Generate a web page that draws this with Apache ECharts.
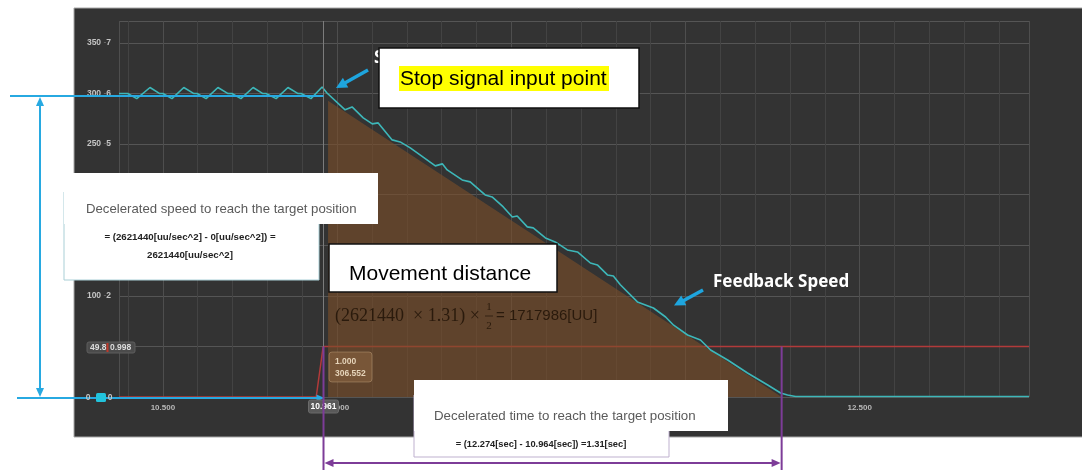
<!DOCTYPE html>
<html>
<head>
<meta charset="utf-8">
<script src="https://cdn.jsdelivr.net/npm/echarts@6/dist/echarts.min.js"></script>
<style>
  html, body { margin: 0; padding: 0; background: #ffffff; }
  #chart { width: 1082px; height: 470px; }
</style>
</head>
<body>
<div id="chart"></div>
<script>
// Visible window of the scope trace
const timeRange = [10.374, 12.986];     // s
const speedRange = [0, 371.75];         // speed axis
const signalRange = [0, 7.435];         // stop-signal axis (7 lines up with 350)

// Feedback speed trace
const speedTime = [
  10.374, 10.399, 10.425, 10.463, 10.491, 10.500, 10.526, 10.560, 10.589, 10.598,
  10.624, 10.658, 10.687, 10.698, 10.724, 10.759, 10.787, 10.796, 10.825, 10.859,
  10.888, 10.897, 10.925, 10.957,
  10.971, 11.023, 11.043, 11.075, 11.101, 11.118, 11.158, 11.181, 11.210, 11.238,
  11.282, 11.302, 11.316, 11.359, 11.382, 11.425, 11.445, 11.477, 11.503, 11.517,
  11.546, 11.563, 11.598, 11.626, 11.661, 11.690, 11.727, 11.747, 11.776, 11.793,
  11.813, 11.862, 11.908, 11.943, 11.966, 12.006, 12.043, 12.072, 12.121, 12.178,
  12.236, 12.273, 12.293, 12.316, 12.986
];
const speedValue = [
  300, 300, 295, 306, 300, 300, 295, 306, 300, 300,
  295, 306, 300, 300, 295, 306, 300, 300, 295, 306,
  300, 300, 295, 306.552,
  300.6, 283.9, 286.8, 276.0, 270.0, 271.0, 254.2, 252.2, 246.3, 239.4,
  228.5, 230.5, 224.5, 214.6, 212.7, 199.8, 197.8, 187.9, 178.0, 179.0,
  168.2, 167.2, 157.3, 153.3, 145.4, 143.4, 132.5, 130.6, 120.7, 119.7,
  111.0, 94.0, 88.0, 79.1, 71.0, 61.3, 56.4, 46.5, 36.6, 23.7,
  11.9, 4.0, 2.0, 0.5, 0.5
];

// Stop signal input
const signalTime = [10.374, 10.940, 10.960, 12.986];
const signalValue = [0, 0, 0.998, 0.998];

// Ideal deceleration ramp (area = movement distance)
const rampTime = [10.974, 12.276];
const rampSpeed = [293, 0];

// Cursor and annotated times
const cursorTime = 10.961;
const decelStart = 10.961;
const decelEnd = 12.276;
const cursorSignal = 0.998;

// Tick label text
const xLabelDigits = 3;

const zip = (a, b) => a.map((v, i) => [v, b[i]]);

const chart = echarts.init(document.getElementById('chart'), null, { renderer: 'canvas' });

chart.setOption({
  animation: false,
  backgroundColor: '#ffffff',
  grid: { left: 119, right: 53, top: 21, bottom: 73, containLabel: false },
  xAxis: {
    type: 'value',
    min: timeRange[0],
    max: timeRange[1],
    splitNumber: 5,
    axisLine: { show: false },
    axisTick: { show: false },
    axisLabel: {
      showMinLabel: false,
      showMaxLabel: false,
      color: '#b8b8b8',
      fontSize: 8,
      fontWeight: 'bold',
      fontFamily: 'Liberation Sans',
      margin: 7,
      formatter: v => v.toFixed(xLabelDigits)
    },
    splitLine: { show: true, lineStyle: { color: '#4e4e4e', width: 1 } },
    minorTick: { show: false, splitNumber: 5 },
    minorSplitLine: { show: true, lineStyle: { color: '#434343', width: 1 } }
  },
  yAxis: [
    {
      type: 'value',
      min: speedRange[0],
      max: speedRange[1],
      splitNumber: 7,
      axisLine: { show: false },
      axisTick: { show: false },
      axisLabel: {
        showMaxLabel: false,
        margin: 8,
        formatter: v => {
          if (v === 0 || v === 50 || v > 360) return '';
          return '{a|' + v + '}{d| -}{b|' + (v / 50) + '}';
        },
        rich: {
          a: { color: '#c4c4c4', fontSize: 8.5, fontFamily: 'Liberation Sans', fontWeight: 'bold' },
          d: { color: '#777777', fontSize: 8.5, fontFamily: 'Liberation Sans' },
          b: { color: '#c4c4c4', fontSize: 8.5, fontFamily: 'Liberation Sans', fontWeight: 'bold' }
        }
      },
      splitLine: { show: true, lineStyle: { color: '#555555', width: 1 } }
    },
    {
      type: 'value',
      min: signalRange[0],
      max: signalRange[1],
      show: false,
      splitLine: { show: false }
    }
  ],
  series: [
    {
      name: 'Stop signal',
      type: 'line',
      yAxisIndex: 1,
      data: zip(signalTime, signalValue),
      symbol: 'none',
      lineStyle: { color: '#b23a3a', width: 1.5 },
      z: 2
    },
    {
      name: 'Deceleration',
      type: 'line',
      data: zip(rampTime, rampSpeed),
      symbol: 'none',
      lineStyle: { width: 0 },
      areaStyle: { color: 'rgba(124,78,40,0.88)', origin: 'start' },
      z: 3
    },
    {
      name: 'Feedback Speed',
      type: 'line',
      data: zip(speedTime, speedValue),
      symbol: 'none',
      lineStyle: { color: '#3db7b9', width: 1.6 },
      z: 4,
      markLine: {
        silent: true,
        symbol: ['none', 'none'],
        label: { show: false },
        lineStyle: { color: '#7c7c7c', width: 1, type: 'solid' },
        data: [{ xAxis: cursorTime }]
      }
    }
  ]
});

// ---- annotation overlay ----
const BLUE = '#27a9e1';
const PURPLE = '#7d3c98';
let zc = 10;
function seg(x1, y1, x2, y2, color, w) {
  return { type: 'line', z: zc++, shape: { x1, y1, x2, y2 }, style: { stroke: color, lineWidth: w } };
}
function head(x, y, ang, color, len, wid) {
  const bx = x - len * Math.cos(ang), by = y - len * Math.sin(ang);
  const px = -Math.sin(ang) * wid / 2, py = Math.cos(ang) * wid / 2;
  return { type: 'polygon', z: zc++, shape: { points: [[x, y], [bx + px, by + py], [bx - px, by - py]] }, style: { fill: color } };
}
function box(x, y, w, h, fill, stroke, lw, r) {
  return { type: 'rect', z: zc++, shape: { x, y, width: w, height: h, r: r || 0 },
           style: { fill, stroke: stroke || null, lineWidth: lw || 0 } };
}
function txt(text, x, y, font, fill, align) {
  return { type: 'text', z: zc++, x, y,
           style: { text, font, fill, textAlign: align || 'left', textVerticalAlign: 'middle' } };
}

const xCur = chart.convertToPixel({ xAxisIndex: 0 }, decelStart);
const xEnd = chart.convertToPixel({ xAxisIndex: 0 }, decelEnd);
const ySig = chart.convertToPixel({ yAxisIndex: 1 }, cursorSignal);

const els = [];
// scope panel
els.push({ type: 'rect', z: -1, shape: { x: 74, y: 8, width: 1010, height: 429 },
           style: { fill: '#333333', stroke: '#a8a8a8', lineWidth: 1 } });

// blue dimension arrows (speed span)
els.push(seg(10, 96, xCur, 96, BLUE, 2));
els.push(seg(40, 104, 40, 390, BLUE, 2));
els.push(head(40, 97, -Math.PI / 2, BLUE, 9, 8));
els.push(head(40, 397, Math.PI / 2, BLUE, 9, 8));
els.push(seg(17, 398, xCur - 6, 398, BLUE, 2));
els.push(head(xCur + 1, 398, 0, BLUE, 8, 7));

// zero / cursor readouts on the value axis
els.push(txt('0', 88, 397.5, 'bold 8.5px "Liberation Sans"', '#c4c4c4', 'center'));
els.push(box(96, 393, 10, 9, '#22c3dc', null, 0, 1.5));
els.push(txt('0', 110, 397.5, 'bold 8.5px "Liberation Sans"', '#c4c4c4', 'center'));
els.push(box(87, 342, 48, 11, '#4b4b4b', '#5e5e5e', 1, 2));
els.push(txt('49.8', 90, 347.5, 'bold 8.5px "Liberation Sans"', '#dddddd'));
els.push(box(106.5, 343, 2, 9, '#c0392b'));
els.push(txt('0.998', 110, 347.5, 'bold 8.5px "Liberation Sans"', '#dddddd'));

// cursor time tag and value readout
els.push(box(xCur - 15, 400, 30, 13, '#595959', '#6a6a6a', 1, 2));
els.push(txt('10.961', xCur, 406.5, 'bold 8.5px "Liberation Sans"', '#ffffff', 'center'));
els.push(box(329, 352, 43, 30, 'rgba(128,92,60,0.75)', 'rgba(215,185,145,0.35)', 1, 3));
els.push(txt('1.000', 335, 362, 'bold 8.5px "Liberation Sans"', '#e6d4ba'));
els.push(txt('306.552', 335, 374, 'bold 8.5px "Liberation Sans"', '#e6d4ba'));

// stop signal callout
els.push(txt('S', 374, 58, 'bold 17px "Noto Sans"', '#ffffff'));
els.push(seg(368, 70, 343, 84, '#1ea5de', 3.5));
els.push(head(336, 88, Math.atan2(18, -32), '#1ea5de', 11, 11));
els.push(box(379, 48, 260, 60, '#ffffff', '#111111', 1.5));
els.push(box(399, 66, 210, 25, '#ffff00'));
els.push(txt('Stop signal input point', 400, 79, '21px "Liberation Sans"', '#000000'));

// feedback speed callout
els.push(txt('Feedback Speed', 713, 282, 'bold 17px "Noto Sans"', '#ffffff'));
els.push(seg(703, 290, 681, 302, '#1ea5de', 3.5));
els.push(head(674, 305.5, Math.atan2(15, -29), '#1ea5de', 11, 11));

// deceleration speed note
els.push(box(64, 192, 255, 88, '#ffffff', '#a9cfd6', 1));
els.push(box(64, 173, 314, 51, '#ffffff'));
els.push(txt('Decelerated speed to reach the target position', 86, 209, '13.2px "Liberation Sans"', '#5a5a5a'));
els.push(txt('= (2621440[uu/sec^2] - 0[uu/sec^2]) =', 190, 237, 'bold 9.7px "Liberation Sans"', '#222222', 'center'));
els.push(txt('2621440[uu/sec^2]', 190, 255, 'bold 9.7px "Liberation Sans"', '#222222', 'center'));

// movement distance note
els.push(box(329, 244, 228, 48, '#ffffff', '#111111', 1.5));
els.push(txt('Movement distance', 349, 274, '21px "Liberation Sans"', '#000000'));
els.push(txt('(2621440  \u00d7 1.31) \u00d7', 335, 316, '18px "Liberation Serif"', '#2a1a0c'));
els.push(txt('1', 489, 307, '11px "Liberation Serif"', '#2a1a0c', 'center'));
els.push(seg(485, 316, 493, 316, '#2a1a0c', 0.8));
els.push(txt('2', 489, 326, '11px "Liberation Serif"', '#2a1a0c', 'center'));
els.push(txt('= 1717986[UU]', 496, 316, '15px "Liberation Sans"', '#2a1a0c'));

// deceleration time span
els.push(seg(xCur, ySig, xCur, 470, PURPLE, 2));
els.push(seg(xEnd, ySig, xEnd, 470, PURPLE, 2));
els.push(seg(xCur + 6, 463, xEnd - 6, 463, PURPLE, 2));
els.push(head(xCur + 1, 463, Math.PI, PURPLE, 9, 8));
els.push(head(xEnd - 1, 463, 0, PURPLE, 9, 8));
els.push(box(414, 395, 255, 62, '#ffffff', '#bfb1cf', 1));
els.push(box(414, 380, 314, 51, '#ffffff'));
els.push(txt('Decelerated time to reach the target position', 434, 416, '13.3px "Liberation Sans"', '#5a5a5a'));
els.push(txt('= (12.274[sec] - 10.964[sec]) =1.31[sec]', 541, 444, 'bold 9.3px "Liberation Sans"', '#222222', 'center'));

chart.setOption({ graphic: { elements: els } });
</script>
</body>
</html>
